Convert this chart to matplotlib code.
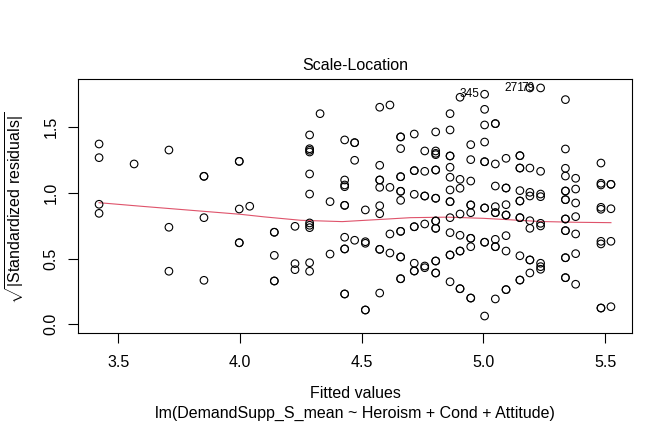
import matplotlib
matplotlib.use("Agg")
import matplotlib.pyplot as plt

plt.rcParams['font.family'] = ['Liberation Sans', 'DejaVu Sans']
plt.rcParams['mathtext.fontset'] = 'custom'
plt.rcParams['mathtext.rm'] = 'Liberation Sans'
plt.rcParams['mathtext.it'] = 'Liberation Sans:italic'

# ---- data ----
fitted = (
    [3.421] * 4 + [3.565] + [3.708] * 3 + [3.852] * 4 + [3.997] * 5 + [4.040]
    + [4.141] * 5 + [4.226] * 3 + [4.286] * 11 + [4.329] + [4.370] * 2
    + [4.430] * 11 + [4.471] * 4 + [4.515] * 5 + [4.574] * 10 + [4.616] * 4
    + [4.660] * 14 + [4.716] * 9 + [4.759] * 7 + [4.804] * 16 + [4.863] * 14
    + [4.904] * 9 + [4.948] * 11 + [5.005] * 11 + [5.049] * 11 + [5.093] * 10
    + [5.150] * 12 + [5.191] * 9 + [5.235] * 9 + [5.337] * 16 + [5.379] * 7
    + [5.483] * 9 + [5.524] * 5
)
sqrt_std_resid = [
    1.373, 1.269, 0.914, 0.845,
    1.221,
    1.327, 0.739, 0.404,
    1.127, 1.127, 0.812, 0.335,
    1.241, 1.241, 0.878, 0.621, 0.621,
    0.899,
    0.701, 0.701, 0.525, 0.330, 0.330,
    0.746, 0.462, 0.416,
    1.442, 1.337, 1.325, 1.312, 1.145, 0.992, 0.772, 0.754, 0.736, 0.469, 0.404,
    1.604,
    0.934, 0.535,
    1.404, 1.099, 1.061, 1.048, 0.906, 0.906, 0.663, 0.574, 0.574, 0.231, 0.231,
    1.383, 1.383, 1.249, 0.640,
    0.871, 0.629, 0.617, 0.109, 0.109,
    1.653, 1.211, 1.099, 1.099, 1.043, 0.903, 0.842, 0.571, 0.571, 0.238,
    1.670, 1.043, 0.688, 0.543,
    1.427, 1.427, 1.338, 1.124, 1.124, 1.013, 1.013, 0.944, 0.708, 0.708, 0.513, 0.513, 0.347, 0.347,
    1.449, 1.170, 1.170, 0.990, 0.743, 0.743, 0.465, 0.406, 0.406,
    1.320, 1.165, 0.977, 0.977, 0.764, 0.444, 0.431,
    1.465, 1.320, 1.302, 1.292, 1.175, 1.175, 0.960, 0.960, 0.787, 0.787, 0.731, 0.731, 0.482, 0.482, 0.391, 0.391,
    1.604, 1.480, 1.282, 1.282, 1.196, 1.120, 1.023, 0.934, 0.934, 0.812, 0.698, 0.528, 0.528, 0.324,
    1.729, 1.104, 1.036, 0.840, 0.678, 0.558, 0.558, 0.271, 0.271,
    1.368, 1.254, 1.091, 0.909, 0.909, 0.850, 0.655, 0.655, 0.591, 0.200, 0.200,
    1.752, 1.637, 1.518, 1.388, 1.238, 1.238, 0.886, 0.886, 0.625, 0.625, 0.063,
    1.528, 1.528, 1.221, 1.053, 0.896, 0.850, 0.850, 0.647, 0.591, 0.591, 0.193,
    1.264, 1.038, 1.038, 0.911, 0.832, 0.832, 0.675, 0.558, 0.264, 0.264,
    1.284, 1.284, 1.190, 1.190, 1.018, 0.939, 0.939, 0.812, 0.812, 0.522, 0.337, 0.337,
    1.800, 1.190, 1.005, 0.977, 0.789, 0.731, 0.490, 0.490, 0.391,
    1.800, 1.165, 0.992, 0.972, 0.769, 0.749, 0.465, 0.439, 0.419,
    1.711, 1.335, 1.188, 1.129, 1.015, 1.015, 0.949, 0.949, 0.802, 0.802, 0.713, 0.713, 0.507, 0.507, 0.355, 0.355,
    1.112, 1.030, 0.924, 0.820, 0.688, 0.538, 0.305,
    1.228, 1.074, 1.061, 0.891, 0.876, 0.632, 0.612, 0.124, 0.124,
    1.066, 1.066, 0.880, 0.632, 0.134,
]

smooth_x = [3.421, 3.6, 3.8, 4.0, 4.1, 4.25, 4.42, 4.59, 4.7, 4.85, 5.0, 5.1, 5.23, 5.38, 5.524]
smooth_y = [0.926, 0.898, 0.868, 0.838, 0.818, 0.792, 0.782, 0.800, 0.812, 0.816, 0.807, 0.797, 0.783, 0.777, 0.774]

id_labels = ["345", "271", "79"]
id_x = [5.005, 5.191, 5.235]
id_y = [1.752, 1.800, 1.800]

x_ticks = [3.5, 4.0, 4.5, 5.0, 5.5]
y_ticks = [0.0, 0.5, 1.0, 1.5]

W, H = 672, 432
fig = plt.figure(figsize=(W / 100, H / 100), dpi=100)
L, R, T, B = 78.3, 631.7, 79.0, 333.3
ax = fig.add_axes([L / W, 1 - B / H, (R - L) / W, (B - T) / H])

ax.scatter(fitted, sqrt_std_resid, s=30, facecolors='none', edgecolors='black',
           linewidths=0.8, zorder=3)
ax.plot(smooth_x, smooth_y, color='#DF536B', lw=0.8, zorder=2)

for lab, xx, yy in zip(id_labels, id_x, id_y):
    ax.annotate(lab, (xx, yy), xytext=(-4.0, 0), textcoords='offset points',
                ha='right', va='center', fontsize=8.6, annotation_clip=False)

ax.set_xlim(3.3357, 5.6093)
ax.set_ylim(-0.0685, 1.868)
ax.set_xticks(x_ticks)
ax.set_xticklabels([f"{v:.1f}" for v in x_ticks])
ax.set_yticks(y_ticks)
ax.set_yticklabels([f"{v:.1f}" for v in y_ticks], rotation=90, va='center')

for s in ax.spines.values():
    s.set_linewidth(0.8)
    s.set_color('black')
fs = 11.5
ax.tick_params(direction='out', length=7.2, width=0.8, labelsize=fs, colors='black')
ax.tick_params(axis='x', pad=8.5)
ax.tick_params(axis='y', pad=7)

fig.text(355 / W, 1 - 66 / H, "Scale-Location", ha='center', va='center', fontsize=fs)
fig.text(355 / W, 1 - 394 / H, "Fitted values", ha='center', va='center', fontsize=fs)
fig.text(355 / W, 1 - 413 / H, "lm(DemandSupp_S_mean ~ Heroism + Cond + Attitude)",
         ha='center', va='center', fontsize=fs)
fig.text(15 / W, 1 - 208 / H, r"$\sqrt{|\mathrm{Standardized\ residuals}|}$",
         ha='center', va='center', rotation=90, fontsize=fs)

fig.savefig("out.png", dpi=100)
